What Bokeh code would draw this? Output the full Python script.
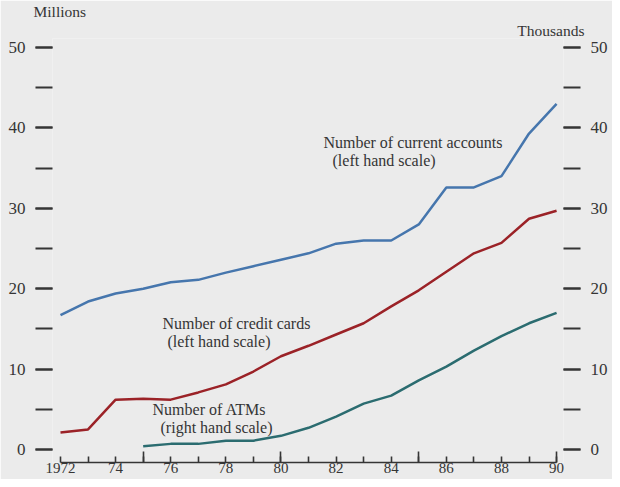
from bokeh.plotting import figure
from bokeh.models import (Range1d, LinearAxis, FixedTicker, SingleIntervalTicker, Label, Title)
from bokeh.embed import file_html
from bokeh.resources import INLINE

# ---------------- data ----------------
years = list(range(1972, 1991))
current_accounts = [16.7, 18.4, 19.4, 20.0, 20.8, 21.1, 22.0, 22.8, 23.6, 24.4,
                    25.6, 26.0, 26.0, 28.0, 32.6, 32.6, 34.0, 39.3, 43.0]   # millions
credit_cards = [2.1, 2.5, 6.2, 6.3, 6.2, 7.1, 8.1, 9.7, 11.6, 12.9,
                14.3, 15.7, 17.8, 19.8, 22.1, 24.4, 25.7, 28.7, 29.7]      # millions
atm_years = list(range(1975, 1991))
atms = [0.4, 0.7, 0.7, 1.1, 1.1, 1.7, 2.7, 4.1, 5.7, 6.7,
        8.6, 10.3, 12.3, 14.1, 15.7, 17.0]                                   # thousands
label_years = [1972, 1974, 1976, 1978, 1980, 1982, 1984, 1986, 1988, 1990]
label_texts = ["1972", "74", "76", "78", "80", "82", "84", "86", "88", "90"]
major_tick_years = [1975, 1980, 1985, 1990]

BG = "#ebebeb"
INK = "#353535"
FONT = "Liberation Serif"
BLUE = "#4676ad"
RED = "#9b2227"
TEAL = "#2b6c70"

W, H = 612, 479
LEFT, RIGHT_EDGE, TOP, BOTTOM = 52, 563, 38, 17
PX_YEAR = 27.56
PX_UNIT = 8.04
x0 = 1972 - (60 - LEFT) / PX_YEAR
x1 = x0 + (RIGHT_EDGE - LEFT) / PX_YEAR
y1 = (449 - TOP) / PX_UNIT
y0 = -((H - BOTTOM) - 449) / PX_UNIT

p = figure(width=W, height=H, output_backend="svg", toolbar_location=None,
           x_range=Range1d(x0, x1), y_range=Range1d(y0, y1),
           min_border_left=LEFT, min_border_right=W - RIGHT_EDGE,
           min_border_top=TOP, min_border_bottom=BOTTOM,
           x_axis_location=None, y_axis_location=None)
p.background_fill_color = BG
p.border_fill_color = BG
p.outline_line_color = None
p.grid.visible = False
p.extra_y_ranges = {"atm": Range1d(y0, y1)}

# unit captions as titles above the frame
p.title.text = "Millions"
p.title.align = "left"
p.title.offset = -19
p.title.standoff = 0
p.title.text_font = FONT
p.title.text_font_size = "15.5px"
p.title.text_font_style = "normal"
p.title.text_color = INK
p.add_layout(Title(text="Thousands", align="right", offset=-21, standoff=0,
                   text_font=FONT, text_font_size="15.5px", text_font_style="normal",
                   text_color=INK), "above")

def yaxis(range_name=None):
    kw = {} if range_name is None else {"y_range_name": range_name}
    ax = LinearAxis(ticker=SingleIntervalTicker(interval=10, num_minor_ticks=2),
                    bounds=(0, 50), **kw)
    ax.axis_line_color = None
    ax.major_tick_out = 17
    ax.major_tick_in = 0
    ax.minor_tick_out = 17
    ax.minor_tick_in = 0
    ax.major_tick_line_color = INK
    ax.minor_tick_line_color = INK
    ax.major_tick_line_width = 1.8
    ax.minor_tick_line_width = 1.8
    ax.major_label_standoff = 10
    ax.major_label_text_font = FONT
    ax.major_label_text_font_size = "17px"
    ax.major_label_text_color = INK
    return ax

p.add_layout(yaxis(), "left")
p.add_layout(yaxis("atm"), "right")

def tick_axis(ticks, length, line):
    ax = LinearAxis(ticker=FixedTicker(ticks=[], minor_ticks=ticks), bounds=(1972, 1990))
    ax.axis_line_color = INK if line else None
    ax.axis_line_width = 1.6
    ax.minor_tick_in = length
    ax.minor_tick_out = 0
    ax.major_tick_in = 0
    ax.major_tick_out = 0
    ax.minor_tick_line_color = INK
    ax.minor_tick_line_width = 1.6
    ax.major_label_standoff = 0
    return ax

p.add_layout(tick_axis(years, 6, True), "below")
p.add_layout(tick_axis(major_tick_years, 11, False), "below")

# label axis
xl = LinearAxis(ticker=FixedTicker(ticks=label_years),
                major_label_overrides={y: t for y, t in zip(label_years, label_texts)})
xl.axis_line_color = None
xl.major_tick_line_color = None
xl.minor_tick_line_color = None
xl.major_tick_in = 0
xl.major_tick_out = 0
xl.major_label_standoff = 0
xl.major_label_text_font = FONT
xl.major_label_text_font_size = "15px"
xl.major_label_text_color = INK
p.add_layout(xl, "below")

p.line(years, current_accounts, line_color=BLUE, line_width=2.5)
p.line(years, credit_cards, line_color=RED, line_width=2.5)
p.line(atm_years, atms, line_color=TEAL, line_width=2.5, y_range_name="atm")

def lab(x, y, text, size="16px"):
    p.add_layout(Label(x=x, y=y, text=text, text_font=FONT, text_font_size=size,
                       text_color=INK, text_baseline="middle", text_align="left"))

lab(1981.54, 38.18, "Number of current accounts")
lab(1981.87, 35.95, "(left hand scale)")
lab(1975.70, 15.67, "Number of credit cards")
lab(1975.88, 13.43, "(left hand scale)")
lab(1975.34, 4.98, "Number of ATMs")
lab(1975.63, 2.74, "(right hand scale)")

open("out.html", "w").write(file_html(p, INLINE))
